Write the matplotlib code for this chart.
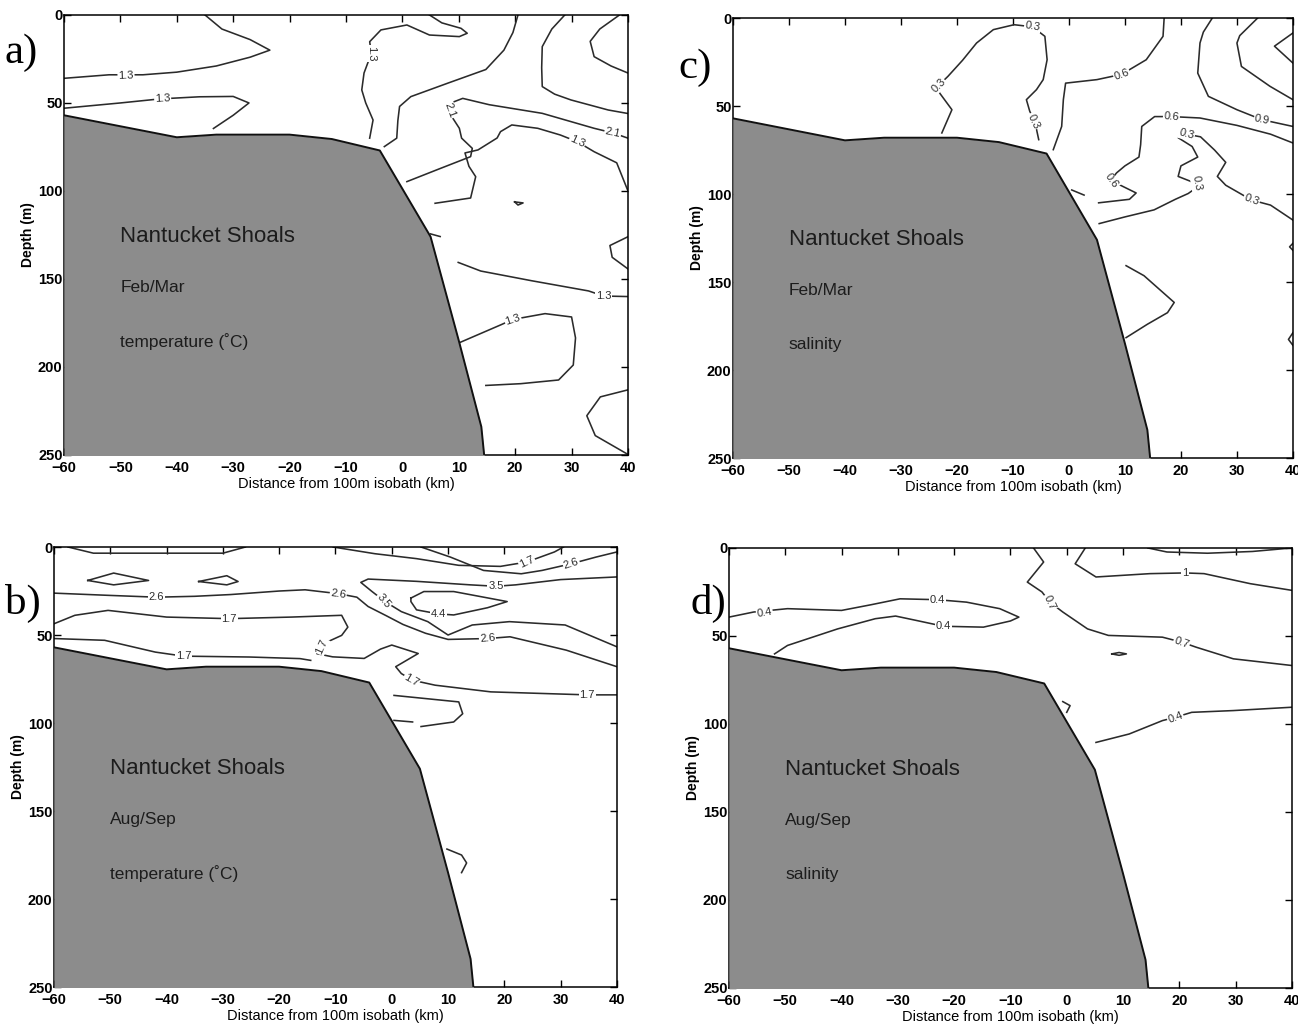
import matplotlib
matplotlib.use("Agg")
import matplotlib.pyplot as plt

plt.rcParams['font.family'] = ['Liberation Sans', 'DejaVu Sans']

# bottom profile across Nantucket Shoals (distance km, depth m)
shelf_x = [-60, -40, -33, -20, -12.5, -4, 5, 10, 14, 14.5]
shelf_z = [57, 69.5, 68, 68, 70.5, 77, 126, 185, 234, 250]

x_ticks = [-60, -50, -40, -30, -20, -10, 0, 10, 20, 30, 40]
z_ticks = [0, 50, 100, 150, 200, 250]

# a) Feb/Mar temperature contour lines, (x list, depth list)
feb_temp_lines = [
    ([-35, -32, -27, -23.5, -27, -33, -40, -46, -52, -60],
     [0, 8, 14, 20, 24, 29, 32.5, 34, 34, 36]),
    ([-60, -50, -43, -36, -30, -27.2, -30, -33.5],
     [53, 50, 47.7, 46.5, 46.3, 50, 57, 64.5]),
    ([4.8, 7, 10.4, 11.5, 10.1, 4.8, 0.8, -3.8, -5.8, -5.5, -6.8, -7.2, -6.5, -5.2, -5.8],
     [0, 4.5, 7.6, 10.4, 12.3, 11.4, 5.7, 8.5, 15.2, 21.8, 33, 42.6, 50, 59.7, 70]),
    ([-3.2, -1, -0.8, -0.5, 1.5, 8.1, 14.8, 18, 19.6, 20.5],
     [74.8, 70, 60, 52, 46.4, 38.7, 31, 20, 10, 0]),
    ([0.8, 6.5, 12.1, 12.4, 10.5, 10.1, 8.4, 8.6, 10.7, 15.4, 24.8, 34, 37.3, 40],
     [94.7, 87.5, 80.5, 75.8, 70, 64.4, 56, 50, 47.4, 51, 55.9, 64.4, 67, 70]),
    ([5.8, 12.1, 13, 11.8, 11.1, 13.4, 16.8, 17.4, 19.4, 24, 28, 31, 34, 38, 40],
     [107, 104, 91.9, 86, 78.4, 76.7, 69.9, 66.3, 62.5, 64.4, 68.2, 72, 77.7, 84, 100]),
    ([19.9, 21.4, 20.5, 19.9], [106.2, 106.8, 108, 106.2]),
    ([5, 6.7], [124.4, 125.9]),
    ([9.9, 13.9, 22.9, 33, 35.7, 40], [140.6, 145.5, 151, 156.8, 159.7, 160]),
    ([9.9, 17.5, 19.6, 25.3, 30, 30.7, 30.3, 27.7, 21, 14.8],
     [186.5, 176, 173, 169.7, 171.6, 183.5, 198.9, 207.4, 209.5, 210.5]),
    ([40, 36.8, 37.2, 40], [126, 131, 137.7, 144.3]),
    ([40, 35.1, 32.7, 34.2, 40], [213, 217, 227.7, 239, 249.7]),
    ([28.8, 26.5, 24.8, 24.7, 24.8, 27, 29.9, 36.5, 40],
     [0, 8, 18, 30, 40.7, 45, 48.3, 54, 56]),
    ([38.5, 35, 33.3, 34, 37, 40], [0, 8, 15, 23.7, 29, 33]),
]
feb_temp_labels = [(-49, 34.5, '1.3', 2), (-42.5, 47.8, '1.3', 3), (-5.6, 21.8, '1.3', -90),
                   (8.5, 54, '2.1', -70), (37.3, 67, '2.1', -12), (31, 72, '1.3', -25),
                   (35.7, 159.6, '1.3', 0), (19.6, 173, '1.3', 18)]

# c) Feb/Mar salinity
feb_sal_lines = [
    ([-22.7, -20.9, -23.1, -23.5, -21.6, -19, -16.5, -13.5, -9.8, -6.5, -4.3, -3.9, -4.6, -5.8, -7.6, -7, -6.1, -5.4],
     [65.3, 52.1, 42.6, 39, 33.1, 24, 14.2, 6.6, 3.8, 5, 10.4, 23.7, 35, 40.7, 46.4, 53, 58.7, 69.1]),
    ([-2.8, -1.3, -1, -0.6, 5, 9.4, 13.8, 16.8, 17],
     [74.8, 61.6, 46.4, 37, 35, 32, 23.7, 10.4, 0]),
    ([25.6, 24, 23.4, 23, 24.9, 30, 34.5, 40], [0, 8, 14.2, 31.3, 44.5, 52.1, 57.8, 61.6]),
    ([33.7, 30.5, 30, 30.8, 35.9, 40], [0, 10, 14.2, 27.5, 38.8, 46.4]),
    ([40, 36.7, 40], [8.5, 16, 25.6]),
    ([5.3, 10.8, 12, 9, 7.5, 8.5, 10, 12.5, 12.8, 13, 15.3, 18.3, 23.4, 30, 36, 40],
     [105, 103, 99.4, 94.7, 92, 88, 84, 79, 72, 61.6, 56, 56, 56.8, 61, 66, 71]),
    ([5.4, 10, 15.2, 19, 21.3, 22.5, 22.7, 19.5, 20, 23, 22, 19.5, 21, 23.5, 26, 28, 26.5, 28, 32.6, 36, 40],
     [116.8, 113, 109, 103, 99.7, 97, 94, 90, 84, 79, 73, 68, 66, 67.5, 75, 82, 90, 95, 103.4, 106.3, 114.8]),
    ([0.5, 2.7], [97.7, 100.6]),
    ([10.2, 13.4, 18.8, 17.6, 14, 10.2], [140.7, 146.4, 161.6, 167.4, 174, 181.6]),
    ([40, 39.4, 40], [128, 130, 132]),
    ([40, 39.2, 40], [178.8, 182.6, 186]),
]
feb_sal_labels = [(-23.3, 38.4, '0.3', 45), (-6.5, 4.8, '0.3', -10), (-6.4, 58.7, '0.3', -65),
                  (9.4, 32, '0.6', 20), (34.5, 57.8, '0.9', -12), (7.6, 92.5, '0.6', -55),
                  (18.3, 56, '0.6', -5), (21, 66, '0.3', -15), (22.8, 94, '0.3', -80),
                  (32.6, 103.4, '0.3', -20)]

# b) Aug/Sep temperature
aug_temp_lines = [
    ([-57.5, -53, -30, -26], [0, 3.5, 3.5, 0]),
    ([-54, -49.4, -43.2, -49.4, -54], [19, 14.8, 19, 21.5, 19]),
    ([-34.3, -29.3, -27.3, -29.3, -34.3], [19.6, 16.3, 19.6, 21.5, 19.6]),
    ([-60, -50, -41.8, -35, -28.6, -20, -15.4, -9.5, -6.2, -4.2, -1, 2, 6, 10, 17, 21, 31, 40],
     [26.2, 27.5, 28.5, 28, 27, 25, 24.3, 26.5, 28.5, 33.8, 39, 44, 49, 52.5, 52, 51, 58.6, 68]),
    ([40, 30, 22, 18.5, 14, 4.4, -4.2, -5.5, -3.5, -1.2, 1.7, 6.4, 10, 14.3, 20.9, 30.8, 40],
     [17, 18.5, 21.5, 22.3, 21.5, 19.5, 18.2, 20.1, 25.3, 31, 36.7, 42.4, 50, 44.3, 42.4, 44.3, 56.7]),
    ([3.4, 5.7, 11, 20.5, 17, 11, 8.3, 4.4, 3.4, 3.4],
     [29, 25.3, 25.3, 31, 34.5, 38.6, 38, 35.7, 31, 29]),
    ([-10.4, -3, 4.4, 11.9, 19.3, 24, 28.9, 30.5], [0, 3.8, 6.6, 10.4, 11, 8.5, 2.8, 0]),
    ([5.2, 10.4, 16.3, 23, 26.7, 31.9, 36.3, 40], [0, 5.7, 13.3, 15.2, 13.3, 9.5, 5.7, 2.8]),
    ([-60, -56.3, -50.4, -40, -28.9, -17.8, -8.9, -7.8, -8.9, -11.5, -12.6, -13.3, -10.5, -4.9,
      -2, 0, 4.7, 0.7, 1.7, 3.7, 7.7, 17.6, 34.7, 40],
     [43.6, 38.8, 36, 39.8, 40.7, 39.8, 38.8, 45.5, 50.2, 54, 56, 60.6, 62.4, 63.3,
      58, 55.7, 60.5, 68, 71.9, 75.7, 78.5, 82.3, 84, 84]),
    ([-60, -51, -42, -37, -25.2, -16.3, -14.4], [52, 53, 59.7, 62, 62.5, 63.4, 64.4]),
    ([0.4, 11.9, 12.6, 11, 5.2], [84.3, 88, 94.7, 99.4, 102]),
    ([0.4, 3.7], [98.5, 99.4]),
    ([9.8, 12.4, 13.3, 12.4], [171.6, 175, 179.5, 185]),
]
aug_temp_labels = [(-41.8, 28.5, '2.6', 0), (-9.5, 26.5, '2.6', -8), (17, 52, '2.6', 5),
                   (18.5, 22.3, '3.5', 0), (-1.4, 30.5, '3.5', -50), (8.3, 38, '4.4', 0),
                   (24, 8.5, '1.7', 25), (31.9, 9.5, '2.6', 18), (-28.9, 40.7, '1.7', 0),
                   (-12.4, 56.5, '1.7', 65), (3.5, 75.5, '1.7', -30), (34.7, 84, '1.7', 0),
                   (-37, 62, '1.7', 0)]

# d) Aug/Sep salinity
aug_sal_lines = [
    ([-60, -55.6, -49.6, -40, -34.8, -29.6, -23, -17.8, -11.9, -8.5, -10, -14.8, -21.9, -26.7,
      -30.4, -34, -40.7, -49.6, -51.9],
     [39.3, 36.4, 34.5, 35.5, 32.3, 28.9, 29.4, 30.8, 34.5, 39.3, 41.5, 45, 44.5, 41.2,
      38.7, 40.2, 46, 55.4, 60.2]),
    ([-5.9, -4.1, -7, -4.4, -3, -0.7, 3.7, 7.4, 17, 20.4, 23, 29.6, 40],
     [0, 8, 19.4, 25, 30.8, 36.4, 46, 49.7, 50.7, 53.5, 56.4, 63, 66.8]),
    ([3.3, 1.5, 5.2, 14.8, 21, 24.4, 32.6, 40], [0, 9, 16.5, 14.6, 14.2, 14.6, 20.3, 24.1]),
    ([14.4, 17.8, 25, 33, 40], [0, 2.3, 3, 2, 0]),
    ([8, 9.3, 10.6, 9.3, 8], [60.2, 59.4, 60.2, 61, 60.2]),
    ([-0.7, 0.6, 0], [87.3, 89.6, 93.4]),
    ([5.2, 11.1, 17, 19.3, 22.2, 29.6, 40], [110.5, 105.7, 98.1, 96.2, 93.4, 92.4, 90.5]),
]
aug_sal_labels = [(-53.7, 36.6, '0.4', 10), (-23, 29.4, '0.4', 0), (-21.9, 44.5, '0.4', 0),
                  (-3, 30.8, '0.7', -65), (20.4, 53.8, '0.7', -20), (21, 14.2, '1', 0),
                  (19.3, 96.4, '0.4', 20)]

panels = [
    ('a)', [0.0493, 0.5557, 0.4345, 0.4297], (5, 63), feb_temp_lines, feb_temp_labels,
     ['Nantucket Shoals', 'Feb/Mar', 'temperature (\u02daC)']),
    ('c)', [0.5647, 0.5527, 0.4314, 0.4297], (678, 78), feb_sal_lines, feb_sal_labels,
     ['Nantucket Shoals', 'Feb/Mar', 'salinity']),
    ('b)', [0.0416, 0.0361, 0.4337, 0.4297], (5, 614), aug_temp_lines, aug_temp_labels,
     ['Nantucket Shoals', 'Aug/Sep', 'temperature (\u02daC)']),
    ('d)', [0.5616, 0.0352, 0.4337, 0.4297], (690, 614), aug_sal_lines, aug_sal_labels,
     ['Nantucket Shoals', 'Aug/Sep', 'salinity']),
]

W, H = 1298, 1024
fig = plt.figure(figsize=(W / 100, H / 100), dpi=100)

for letter, rect, lpos, lines, labels, notes in panels:
    ax = fig.add_axes(rect)
    for xs, zs in lines:
        ax.plot(xs, zs, color='#2b2b2b', lw=1.15, zorder=2)
    for x, z, s, rot in labels:
        ax.text(x, z, s, fontsize=8, color='#2b2b2b', rotation=rot, ha='center', va='center',
                rotation_mode='anchor', zorder=4,
                bbox=dict(facecolor='white', edgecolor='none', pad=0.6))
    ax.fill_between(shelf_x, shelf_z, 260, color='#8c8c8c', zorder=3, lw=0)
    ax.plot(shelf_x, shelf_z, color='#111111', lw=1.4, zorder=3)

    ax.text(-50, 126, notes[0], fontsize=16, color='#1c1c1c', va='center', zorder=5)
    ax.text(-50, 155, notes[1], fontsize=12.5, color='#1c1c1c', va='center', zorder=5)
    ax.text(-50, 185.5, notes[2], fontsize=12.5, color='#1c1c1c', va='center', zorder=5)

    ax.set_xlim(-60, 40)
    ax.set_ylim(250, 0)
    ax.set_xticks(x_ticks)
    ax.set_yticks(z_ticks)
    ax.set_xticklabels(['\u2212%d' % -v if v < 0 else str(v) for v in x_ticks])
    ax.tick_params(direction='in', length=5, width=1, top=True, right=True,
                   labelsize=10.5, pad=4)
    ax.tick_params(axis='y', pad=1)
    for lab in ax.get_xticklabels() + ax.get_yticklabels():
        lab.set_fontweight('bold')
    for sp in ax.spines.values():
        sp.set_linewidth(1.1)
    ax.set_xlabel('Distance from 100m isobath (km)', fontsize=10.5, labelpad=2)
    ax.set_ylabel('Depth (m)', fontsize=10, fontweight='bold', labelpad=2)

    fig.text(lpos[0] / W, 1 - lpos[1] / H, letter, fontsize=31,
             family=['Liberation Serif', 'DejaVu Serif'], va='baseline')

fig.savefig('out.png', dpi=100)
